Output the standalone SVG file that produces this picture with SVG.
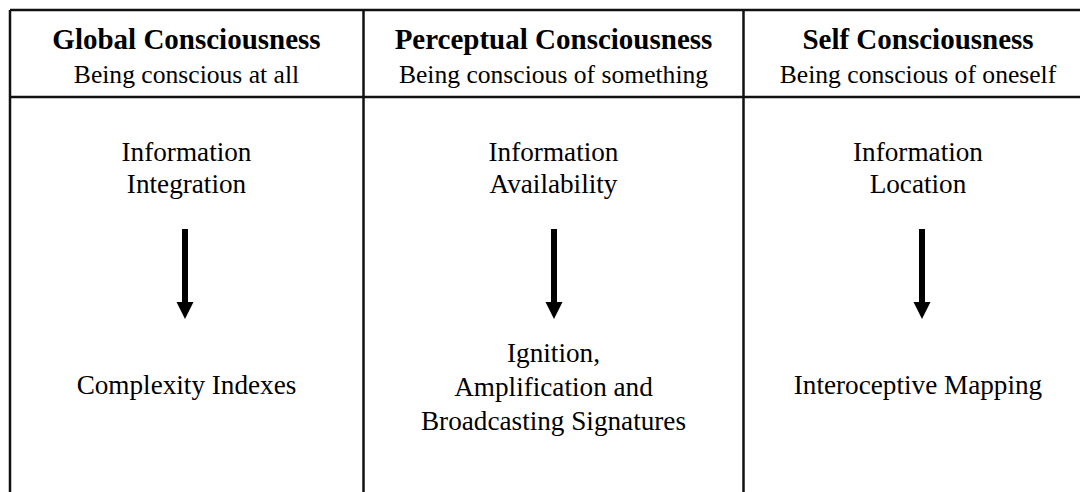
<svg xmlns="http://www.w3.org/2000/svg" width="1080" height="492" viewBox="0 0 1080 492">
  <style>
    .grid { stroke: #111; stroke-width: 2.5; fill: none; }
    .title { font-family: "Liberation Serif", "Times New Roman", serif; font-weight: bold; font-size: 29px; fill: #000; text-anchor: middle; }
    .sub { font-family: "Liberation Serif", "Times New Roman", serif; font-size: 25.6px; fill: #000; text-anchor: middle; }
    .body { font-family: "Liberation Serif", "Times New Roman", serif; font-size: 27.2px; fill: #000; text-anchor: middle; }
    .shaft { stroke: #000; stroke-width: 6; fill: none; }
    .head { fill: #000; }
  </style>
  <rect width="1080" height="492" fill="#fff"/>
  <g id="table">
    <line class="grid" x1="10" y1="10" x2="1080" y2="10"/>
    <line class="grid" x1="10" y1="97" x2="1080" y2="97"/>
    <line class="grid" x1="10" y1="10" x2="10" y2="492"/>
    <line class="grid" x1="363.5" y1="10" x2="363.5" y2="492"/>
    <line class="grid" x1="743.5" y1="10" x2="743.5" y2="492"/>
  </g>
  <g id="header-global">
    <text class="title" x="186.5" y="49">Global Consciousness</text>
    <text class="sub" x="186.5" y="83">Being conscious at all</text>
  </g>
  <g id="header-perceptual">
    <text class="title" x="553.5" y="49">Perceptual Consciousness</text>
    <text class="sub" x="553.5" y="83">Being conscious of something</text>
  </g>
  <g id="header-self">
    <text class="title" x="918" y="49">Self Consciousness</text>
    <text class="sub" x="918" y="83">Being conscious of oneself</text>
  </g>
  <g id="node-integration">
    <text class="body" x="186.5" y="161">Information</text>
    <text class="body" x="186.5" y="193">Integration</text>
  </g>
  <g id="node-availability">
    <text class="body" x="553.5" y="161">Information</text>
    <text class="body" x="553.5" y="193">Availability</text>
  </g>
  <g id="node-location">
    <text class="body" x="918" y="161">Information</text>
    <text class="body" x="918" y="193">Location</text>
  </g>
  <g id="node-complexity">
    <text class="body" x="186.5" y="394">Complexity Indexes</text>
  </g>
  <g id="node-ignition">
    <text class="body" x="553.5" y="362">Ignition,</text>
    <text class="body" x="553.5" y="396">Amplification and</text>
    <text class="body" x="553.5" y="430">Broadcasting Signatures</text>
  </g>
  <g id="node-interoceptive">
    <text class="body" x="918" y="394">Interoceptive Mapping</text>
  </g>
  <g id="connectors">
    <line class="shaft" x1="185" y1="229" x2="185" y2="304"/>
    <polygon class="head" points="176.5,302 193.5,302 185,319"/>
    <line class="shaft" x1="554" y1="229" x2="554" y2="304"/>
    <polygon class="head" points="545.5,302 562.5,302 554,319"/>
    <line class="shaft" x1="922" y1="229" x2="922" y2="304"/>
    <polygon class="head" points="913.5,302 930.5,302 922,319"/>
  </g>
</svg>
